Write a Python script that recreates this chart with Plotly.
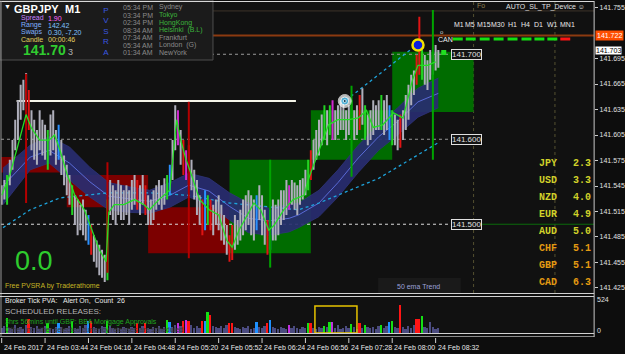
import pandas as pd
import plotly.graph_objects as go

W, H = 625, 354
SANS = "Liberation Sans, Arial, sans-serif"
MONO = "Liberation Mono, Courier New, monospace"

T0 = pd.Timestamp("2017-02-24 03:12")


def t(m):
    return T0 + pd.Timedelta(minutes=m)


def px(x):
    return x / W


def py(y):
    return 1 - y / H


# ---------------- data ----------------
BAR_STEP = 2  # minutes per drawn bar
bar_high = [141.546, 141.552, 141.558, 141.576, 141.599, 141.623, 141.646, 141.664, 141.670, 141.678,
            141.658, 141.634, 141.623, 141.611, 141.634, 141.623, 141.617, 141.611, 141.629, 141.634,
            141.611, 141.617, 141.599, 141.581, 141.570, 141.558, 141.546, 141.534, 141.529, 141.523,
            141.529, 141.517, 141.511, 141.499, 141.487, 141.481, 141.476, 141.470, 141.464, 141.529,
            141.552, 141.546, 141.540, 141.552, 141.546, 141.540, 141.546, 141.540, 141.552, 141.558,
            141.552, 141.546, 141.558, 141.546, 141.534, 141.529, 141.540, 141.546, 141.552, 141.546,
            141.554, 141.558, 141.570, 141.599, 141.640, 141.634, 141.611, 141.599, 141.587, 141.593,
            141.576, 141.564, 141.552, 141.534, 141.529, 141.540, 141.534, 141.529, 141.523, 141.529,
            141.534, 141.523, 141.511, 141.499, 141.487, 141.499, 141.511, 141.505, 141.517, 141.529,
            141.534, 141.540, 141.534, 141.529, 141.534, 141.546, 141.534, 141.517, 141.505, 141.517,
            141.529, 141.523, 141.529, 141.540, 141.540, 141.552, 141.546, 141.552, 141.549, 141.546,
            141.552, 141.554, 141.564, 141.576, 141.587, 141.599, 141.611, 141.623, 141.629, 141.640,
            141.634, 141.640, 141.646, 141.634, 141.640, 141.646, 141.646, 141.634, 141.640, 141.646,
            141.634, 141.640, 141.652, 141.660, 141.640, 141.629, 141.634, 141.646, 141.640, 141.646,
            141.652, 141.646, 141.652, 141.640, 141.634, 141.629, 141.623, 141.629, 141.634, 141.652,
            141.664, 141.676, 141.681, 141.699, 141.744, 141.705, 141.699, 141.693, 141.705, 141.699,
            141.711, 141.705]
bar_low = [141.523, 141.529, 141.523, 141.546, 141.564, 141.587, 141.599, 141.623, 141.634, 141.646,
           141.611, 141.587, 141.576, 141.570, 141.587, 141.581, 141.576, 141.564, 141.581, 141.587,
           141.570, 141.576, 141.558, 141.546, 141.534, 141.523, 141.511, 141.499, 141.487, 141.493,
           141.487, 141.481, 141.476, 141.464, 141.456, 141.449, 141.440, 141.437, 141.432, 141.434,
           141.511, 141.505, 141.499, 141.511, 141.505, 141.505, 141.511, 141.499, 141.517, 141.523,
           141.517, 141.511, 141.523, 141.511, 141.499, 141.499, 141.505, 141.517, 141.523, 141.517,
           141.523, 141.529, 141.534, 141.552, 141.587, 141.593, 141.570, 141.558, 141.552, 141.546,
           141.540, 141.529, 141.511, 141.499, 141.487, 141.493, 141.499, 141.493, 141.487, 141.499,
           141.493, 141.481, 141.476, 141.464, 141.456, 141.458, 141.470, 141.476, 141.481, 141.487,
           141.493, 141.499, 141.487, 141.481, 141.493, 141.505, 141.487, 141.476, 141.464, 141.470,
           141.481, 141.481, 141.487, 141.499, 141.505, 141.511, 141.517, 141.523, 141.517, 141.511,
           141.523, 141.529, 141.534, 141.540, 141.552, 141.564, 141.576, 141.581, 141.593, 141.599,
           141.593, 141.605, 141.599, 141.599, 141.605, 141.611, 141.611, 141.599, 141.605, 141.611,
           141.599, 141.605, 141.611, 141.617, 141.599, 141.593, 141.599, 141.605, 141.611, 141.611,
           141.611, 141.605, 141.611, 141.599, 141.593, 141.593, 141.587, 141.590, 141.599, 141.611,
           141.623, 141.640, 141.652, 141.664, 141.676, 141.670, 141.664, 141.658, 141.670, 141.676,
           141.681, 141.684]
volume = [70, 95, 219, 80, 60, 110, 75, 90, 65, 120,
          205, 85, 70, 100, 60, 75, 95, 146, 70, 55,
          85, 146, 90, 60, 75, 105, 175, 80, 65, 95,
          70, 110, 175, 175, 90, 75, 60, 100, 85, 175,
          95, 70, 55, 80, 65, 90, 75, 60, 85, 70,
          146, 80, 95, 146, 70, 60, 85, 75, 100, 65,
          90, 190, 160, 85, 120, 146, 95, 175, 190, 175,
          110, 80, 95, 70, 175, 175, 307, 263, 100, 85,
          70, 95, 80, 110, 146, 146, 90, 75, 60, 85,
          70, 95, 65, 80, 160, 90, 75, 105, 146, 190,
          85, 70, 60, 90, 75, 65, 117, 80, 95, 70,
          60, 85, 75, 146, 146, 80, 65, 90, 70, 102,
          85, 160, 160, 75, 110, 65, 80, 95, 70, 131,
          85, 60, 146, 75, 117, 90, 70, 85, 65, 95,
          117, 80, 105, 160, 175, 90, 70, 410, 85, 60,
          95, 75, 110, 205, 205, 248, 90, 70, 160, 85,
          60, 75]
# PVSRA volume classes (bar index -> class)
climax_bull = [2, 17, 26, 39, 61, 76, 113, 119, 121, 129, 134, 140, 144, 155]
climax_bear = [10, 33, 50, 53, 67, 69, 74, 77, 84, 85, 98, 114, 132, 147, 153, 154]
rising_bull = [21, 32, 62, 75, 94, 99, 143]
rising_bear = [65, 68, 106, 122]

# hourly candle overlay
hour_start = ["2017-02-24 03:00", "2017-02-24 04:00", "2017-02-24 05:00",
              "2017-02-24 06:00", "2017-02-24 07:00", "2017-02-24 08:00"]
hour_open = [141.579, 141.558, 141.520, 141.466, 141.576, 141.632]
hour_close = [141.561, 141.520, 141.466, 141.576, 141.634, 141.703]
hour_high = [141.677, 141.573, 141.644, 141.576, 141.663, 141.752]
hour_low = [141.525, 141.443, 141.460, 141.449, 141.556, 141.576]

# fast moving average (green)
fast_min = [0, 6, 12, 18, 22, 28, 35, 39, 43, 48, 54, 61, 68, 72, 77, 79, 83, 90, 98, 105,
            109, 116, 124, 126, 129, 132, 136, 140, 146, 153, 160, 166, 170, 175, 182, 186, 191, 197, 201, 208,
            215, 223, 226, 234, 241, 248, 256, 263, 269, 274, 281, 289, 296, 303, 307, 314, 320]
fast_val = [141.534, 141.558, 141.593, 141.629, 141.613, 141.599, 141.599, 141.605, 141.587, 141.560,
            141.534, 141.517, 141.487, 141.470, 141.456, 141.514, 141.523, 141.523, 141.529, 141.523,
            141.517, 141.529, 141.540, 141.570, 141.623, 141.599, 141.576, 141.558, 141.529, 141.517,
            141.511, 141.481, 141.473, 141.493, 141.513, 141.525, 141.517, 141.493, 141.499, 141.517,
            141.529, 141.534, 141.552, 141.587, 141.617, 141.623, 141.623, 141.625, 141.634, 141.614,
            141.617, 141.631, 141.625, 141.670, 141.687, 141.687, 141.691]

# 50 ema envelope (navy band)
band_min = [1, 21, 35, 50, 65, 79, 94, 109, 124, 138, 153, 168, 182, 197, 212, 219, 234, 248, 263, 278, 292, 307, 322]
band_upper = [141.566, 141.593, 141.603, 141.591, 141.567, 141.549, 141.544, 141.540, 141.549, 141.560, 141.554, 141.537,
              141.525, 141.519, 141.523, 141.525, 141.540, 141.564, 141.593, 141.617, 141.637, 141.660, 141.672]
band_lower = [141.523, 141.564, 141.572, 141.552, 141.532, 141.517, 141.514, 141.513, 141.520, 141.532, 141.523, 141.505,
              141.490, 141.487, 141.491, 141.496, 141.509, 141.532, 141.561, 141.587, 141.605, 141.626, 141.637]
band_mid = [141.545, 141.579, 141.587, 141.572, 141.550, 141.533, 141.530, 141.527, 141.534, 141.546, 141.539, 141.521,
            141.507, 141.504, 141.507, 141.511, 141.525, 141.549, 141.578, 141.603, 141.621, 141.644, 141.654]

# dotted cyan lines
env_lo_min = [1, 21, 43, 79, 109, 138, 168, 197, 219, 234, 278, 322]
env_lo = [141.496, 141.517, 141.531, 141.537, 141.537, 141.534, 141.525, 141.520, 141.517, 141.525, 141.554, 141.596]
env_hi_min = [254, 306]
env_hi = [141.646, 141.711]

# markers
eye_min, eye_price = 253, 141.645
target_min, target_price = 307, 141.711
dot_min, dot_price = 326, 141.702

# levels
grid_levels = [141.700, 141.600, 141.500]
grid_colors = ["#9a9a9a", "#9a9a9a", "#dcdcdc"]
label_min = 331
white_level, white_from, white_to = 141.645, 11, 217
bid_price = 141.722
upper_line = 141.751
close_label = 141.703
support_level, support_from = 141.500, 350
period_lines = [348, 408]
x_range_min = [-0.5, 436.9]
highlight_min = [231, 262]
highlight_vol = [0, 395]

price_ticks = [141.425, 141.455, 141.485, 141.515, 141.545, 141.575, 141.605, 141.635, 141.665,
               141.695, 141.755]

time_tick_min = [0, 32, 64, 96, 128, 160, 192, 224, 256, 288, 320]
time_tick_labels = ["24 Feb 2017", "24 Feb 03:44", "24 Feb 04:16", "24 Feb 04:48", "24 Feb 05:20",
                    "24 Feb 05:52", "24 Feb 06:24", "24 Feb 06:56", "24 Feb 07:28", "24 Feb 08:00",
                    "24 Feb 08:32"]

currencies = ["JPY", "USD", "NZD", "EUR", "AUD", "CHF", "GBP", "CAD"]
strength = [2.3, 3.3, 4.0, 4.9, 5.0, 5.1, 5.1, 6.3]

session_times = ["05:34 PM", "03:34 PM", "02:34 PM", "08:34 AM", "07:34 AM", "05:34 AM", "01:34 AM"]
session_names = ["Sydney", "Tokyo", "HongKong", "Helsinki  (B.L)", "Frankfurt", "London  (G)", "NewYork"]
session_open = [False, True, True, True, False, False, False]

timeframes = ["M1", "M5", "M15", "M30", "H1", "H4", "D1", "W1", "MN1"]
tf_state = [1, 1, 1, 1, 1, 1, 1, 1, 0]

# ---------------- figure ----------------
fig = go.Figure()
XA = dict(xaxis="x", yaxis="y")

# navy band
bx = [t(m) for m in band_min]
fig.add_trace(go.Scatter(x=bx, y=band_upper, mode="lines", line=dict(color="#2f3479", width=0.8),
                         hoverinfo="skip", **XA))
fig.add_trace(go.Scatter(x=bx, y=band_lower, mode="lines", line=dict(color="#2f3479", width=0.8),
                         fill="tonexty", fillcolor="rgba(40,44,112,0.92)", hoverinfo="skip", **XA))
fig.add_trace(go.Scatter(x=bx, y=band_mid, mode="lines", line=dict(color="#5a6bd6", width=1),
                         hoverinfo="skip", **XA))

# cyan dotted
fig.add_trace(go.Scatter(x=[t(m) for m in env_lo_min], y=env_lo, mode="lines",
                         line=dict(color="#1ea4dc", width=1.3, dash="dot"), hoverinfo="skip", **XA))
fig.add_trace(go.Scatter(x=[t(m) for m in env_hi_min], y=env_hi, mode="lines",
                         line=dict(color="#1ea4dc", width=1.3, dash="dot"), hoverinfo="skip", **XA))

# price bars
cls = {}
for i in climax_bull:
    cls[i] = "g"
for i in climax_bear:
    cls[i] = "r"
for i in rising_bull:
    cls[i] = "b"
for i in rising_bear:
    cls[i] = "m"
candle_colors = {"n": "#afafbb", "g": "#22d422", "r": "#e01414", "b": "#2a90ff", "m": "#d028d0"}
vol_colors = {"n": "#4b4b80", "g": "#14e014", "r": "#ff1414", "b": "#1e90ff", "m": "#c030e0"}
for c in ["n", "g", "r", "b", "m"]:
    xs, ys = [], []
    for i in range(len(bar_high)):
        if cls.get(i, "n") == c:
            xs += [t(BAR_STEP * i), t(BAR_STEP * i), None]
            ys += [bar_low[i], bar_high[i], None]
    fig.add_trace(go.Scatter(x=xs, y=ys, mode="lines", line=dict(color=candle_colors[c], width=2.0),
                             hoverinfo="skip", connectgaps=False, **XA))

# hourly wicks
for k in range(len(hour_start)):
    mid = pd.Timestamp(hour_start[k]) + pd.Timedelta(minutes=30)
    col = "#00a400" if hour_close[k] >= hour_open[k] else "#b40000"
    fig.add_trace(go.Scatter(x=[mid, mid], y=[hour_low[k], hour_high[k]], mode="lines",
                             line=dict(color=col, width=2), hoverinfo="skip", **XA))

# fast MA
fig.add_trace(go.Scatter(x=[t(m) for m in fast_min], y=fast_val, mode="lines",
                         line=dict(color="#26dc26", width=1.3), hoverinfo="skip", **XA))

# markers
fig.add_trace(go.Scatter(x=[t(eye_min)] * 3, y=[eye_price] * 3, mode="markers",
                         marker=dict(size=[13, 8, 3], color=["#ffffff", "#1aa8e0", "#001020"]),
                         hoverinfo="skip", **XA))
fig.add_trace(go.Scatter(x=[t(target_min)], y=[target_price], mode="markers",
                         marker=dict(size=11, color="#0a1ee0", line=dict(color="#f0e000", width=2.5)),
                         hoverinfo="skip", **XA))
fig.add_trace(go.Scatter(x=[t(dot_min)], y=[dot_price], mode="markers",
                         marker=dict(size=5, symbol="square", color="#20e020"), hoverinfo="skip", **XA))

# volume
fig.add_trace(go.Bar(x=[t(BAR_STEP * i) for i in range(len(volume))], y=volume,
                     marker=dict(color=[vol_colors[cls.get(i, "n")] for i in range(len(volume))], line=dict(width=0)),
                     width=1.3 * 60000, hoverinfo="skip", xaxis="x2", yaxis="y2"))

# ---------------- shapes ----------------
shapes = []
# hourly boxes
for k in range(len(hour_start)):
    s = pd.Timestamp(hour_start[k])
    col = "#006c00" if hour_close[k] >= hour_open[k] else "#7c0000"
    shapes.append(dict(type="rect", xref="x", yref="y", x0=s, x1=s + pd.Timedelta(minutes=60),
                       y0=hour_open[k], y1=hour_close[k], fillcolor=col, line=dict(width=0), layer="below"))
# levels
shapes.append(dict(type="line", xref="x domain", yref="y", x0=0, x1=1, y0=upper_line, y1=upper_line,
                   line=dict(color="#3e342a", width=1), layer="below"))
shapes.append(dict(type="line", xref="x domain", yref="y", x0=0, x1=1, y0=bid_price, y1=bid_price,
                   line=dict(color="#8c3a10", width=2), layer="below"))
for lv, lc in zip(grid_levels, grid_colors):
    shapes.append(dict(type="line", xref="x", yref="y", x0=t(x_range_min[0]), x1=t(label_min), y0=lv, y1=lv,
                       line=dict(color=lc, width=1, dash="dot"), layer="below"))
shapes.append(dict(type="line", xref="x", yref="y", x0=t(support_from), x1=t(x_range_min[1]),
                   y0=support_level, y1=support_level, line=dict(color="#0b6a0b", width=1), layer="below"))
shapes.append(dict(type="line", xref="x", yref="y", x0=t(white_from), x1=t(white_to),
                   y0=white_level, y1=white_level, line=dict(color="#f4f4e8", width=2), layer="below"))
for pm in period_lines:
    shapes.append(dict(type="line", xref="x", yref="y domain", x0=t(pm), x1=t(pm), y0=0, y1=1,
                       line=dict(color="#545030", width=1, dash="dot"), layer="below"))
# highlight in volume pane
shapes.append(dict(type="rect", xref="x2", yref="y2", x0=t(highlight_min[0]), x1=t(highlight_min[1]),
                   y0=highlight_vol[0], y1=highlight_vol[1], line=dict(color="#e8c400", width=1.5)))


def hline(y, x0, x1, color, w=1):
    shapes.append(dict(type="line", xref="paper", yref="paper", x0=px(x0), x1=px(x1), y0=py(y), y1=py(y),
                       line=dict(color=color, width=w)))


def vline(x, y0, y1, color, w=1):
    shapes.append(dict(type="line", xref="paper", yref="paper", x0=px(x), x1=px(x), y0=py(y0), y1=py(y1),
                       line=dict(color=color, width=w)))


# info panel
shapes.append(dict(type="rect", xref="paper", yref="paper", x0=px(0), x1=px(214), y0=py(60), y1=py(0),
                   fillcolor="#1b1b1b", line=dict(color="#4e4e4e", width=1)))
# 50 ema box
shapes.append(dict(type="rect", xref="paper", yref="paper", x0=px(380), x1=px(463), y0=py(293), y1=py(278),
                   fillcolor="#1a1a1a", line=dict(width=0)))
# frame
hline(1.5, 0, 597, "#d8d8d8")
vline(1, 1, 337, "#9a9a9a")
hline(293.5, 0, 597, "#d0d0d0")
hline(296.5, 0, 597, "#d0d0d0")
hline(333.5, 0, 597, "#d0d0d0")
hline(336.5, 0, 597, "#8a8a8a")
vline(597, 1, 337, "#c8c8c8")
# timeframe signal dashes
tf_x = [455, 468, 482, 496, 510, 524, 537, 550, 563]
for xx, st in zip(tf_x, tf_state):
    shapes.append(dict(type="rect", xref="paper", yref="paper", x0=px(xx), x1=px(xx + 10), y0=py(40.5),
                       y1=py(37.5), fillcolor="#12e012" if st else "#ff1414", line=dict(width=0)))
# time ticks
for m in time_tick_min:
    shapes.append(dict(type="line", xref="x", yref="paper", x0=t(m), x1=t(m), y0=py(338), y1=py(343),
                       line=dict(color="#cfcfcf", width=1)))

# ---------------- annotations ----------------
ann = []


def txt(x, y, s, color, size=7, anchor="left", family=SANS, **kw):
    ann.append(dict(xref="paper", yref="paper", x=px(x), y=py(y), text=s, showarrow=False, xanchor=anchor,
                    yanchor="middle", font=dict(family=family, size=size, color=color), borderpad=0,
                    **kw))


# info panel texts
txt(3, 7, "▼", "#ffffff", 7)
txt(13, 9, "<b>GBPJPY</b>", "#ffffff", 11)
txt(64, 9, "<b>M1</b>", "#ffffff", 11)
lab = [("Spread", "1.90", "#c880ff", "#ff66ff"), ("Range", "142.42", "#80b0ff", "#80c4ff"),
       ("Swaps", "0.30, -7.20", "#80b0ff", "#80c4ff"), ("Candle", "00:00:46", "#e0d060", "#e0d060")]
for (a, b, c1, c2), yy in zip(lab, [18.3, 25.3, 32.3, 39.3]):
    txt(20, yy, a, c1, 7)
    txt(47, yy, b, c2, 7)
txt(22, 50, "<b>141.70</b>", "#30cc30", 14)
txt(67, 52, "3", "#b0b0b0", 9)
txt(107, 31.5, "<br>".join("PVSRA"), "#3a58e0", 8, anchor="center")
for k, yy in enumerate([7.3, 15, 22.7, 30, 37.3, 45, 52.3]):
    txt(123, yy, session_times[k], "#8a8a8a", 7)
    txt(159, yy, session_names[k].replace("  ", "\u00a0\u00a0"), "#3cb43c" if session_open[k] else "#8a8a8a", 7)

# top right
txt(478, 6, "Fo", "#8c8050", 7)
txt(507, 7, "AUTO_SL_TP_Device ☺", "#e0e0e0", 7)
for name, cx in zip(timeframes, [461, 472, 486, 500, 515, 528, 541, 555, 570]):
    txt(cx, 24, name, "#e8e8e8", 7, anchor="center")
txt(439, 39, "CAN", "#f0f0f0", 7)
txt(441, 32, "o", "#d0d0d0", 6)

# level labels
for lv in grid_levels:
    ann.append(dict(xref="x", yref="y", x=t(label_min), y=lv, text=f"{lv:.3f}", showarrow=False,
                    xanchor="left", yanchor="middle", font=dict(family=SANS, size=8, color="#e0e0e0"),
                    bgcolor="#141414", bordercolor="#e0e0e0", borderwidth=1, borderpad=0))

# right axis price boxes
ann.append(dict(xref="paper", yref="y", x=px(598), y=bid_price, text=f"{bid_price:.3f}", showarrow=False,
                xanchor="left", yanchor="middle", font=dict(family=SANS, size=7, color="#ffffff"),
                bgcolor="#ff4e00", borderpad=1))
ann.append(dict(xref="paper", yref="y", x=px(598), y=close_label, text=f"{close_label:.3f}", showarrow=False,
                xanchor="left", yanchor="middle", font=dict(family=SANS, size=7, color="#000000"),
                bgcolor="#ffffff", borderpad=0, yshift=1))

# currency strength
for k, (cur, v) in enumerate(zip(currencies, strength)):
    yy = 163 + k * 17
    col = "#d2d22a" if k < 5 else "#e39a12"
    txt(541, yy, f"<b>{cur}</b>", col, 10, family=MONO)
    txt(575, yy, f"<b>{v:.1f}</b>", col, 10, family=MONO)

txt(14, 261, "0.0", "#2ecc2e", 27)
txt(4, 286, "Free PVSRA by Traderathome", "#c4b424", 7)
txt(421, 286, "50 ema Trend", "#9ca2da", 7, anchor="center")

# volume pane texts
txt(4, 300, "Broker Tick PVA:", "#e8e8e8", 7)
txt(62, 300, "Alert On,\u00a0\u00a0Count\u00a0\u00a026", "#e8e8e8", 7)
txt(4, 311, "SCHEDULED RELEASES:", "#b4b4b4", 8)
txt(4, 321.5, "3hrs 56mins until GBP: BBA Mortgage Approvals", "#1fa41f", 7)
txt(4, 329.5, "Other: no other selected currency releases are scheduled", "#3a3a3a", 7)
txt(599, 299, "524", "#e0e0e0", 7)
txt(599, 330, "0", "#e0e0e0", 7)

# time labels
for m, lbl in zip(time_tick_min, time_tick_labels):
    ann.append(dict(xref="x", yref="paper", x=t(m), y=py(347), text=lbl, showarrow=False, xanchor="left",
                    yanchor="middle", xshift=1, font=dict(family=SANS, size=7, color="#e8e8e8"), borderpad=0))

fig.update_layout(
    width=W, height=H, margin=dict(l=0, r=0, t=0, b=0), showlegend=False,
    paper_bgcolor="#0d0d0d", plot_bgcolor="#111111", bargap=0,
    xaxis=dict(domain=[px(1), px(597)], range=[t(x_range_min[0]), t(x_range_min[1])], anchor="y",
               showticklabels=False, showgrid=False, zeroline=False, ticks=""),
    xaxis2=dict(domain=[px(1), px(597)], matches="x", anchor="y2",
                showticklabels=False, showgrid=False, zeroline=False, ticks=""),
    yaxis=dict(domain=[py(293), py(2)], range=[141.4191, 141.7615], side="right", anchor="x",
               tickvals=price_ticks, tickformat=".3f", ticks="outside", ticklen=3, tickcolor="#cccccc",
               tickfont=dict(family=SANS, size=7, color="#e0e0e0"), showgrid=False, zeroline=False,
               showline=False),
    yaxis2=dict(domain=[py(333), py(296)], range=[0, 540], side="right", anchor="x2",
                showticklabels=False, showgrid=False, zeroline=False, ticks=""),
    shapes=shapes, annotations=ann,
)

fig.write_html("out.html", config={"displayModeBar": False})
